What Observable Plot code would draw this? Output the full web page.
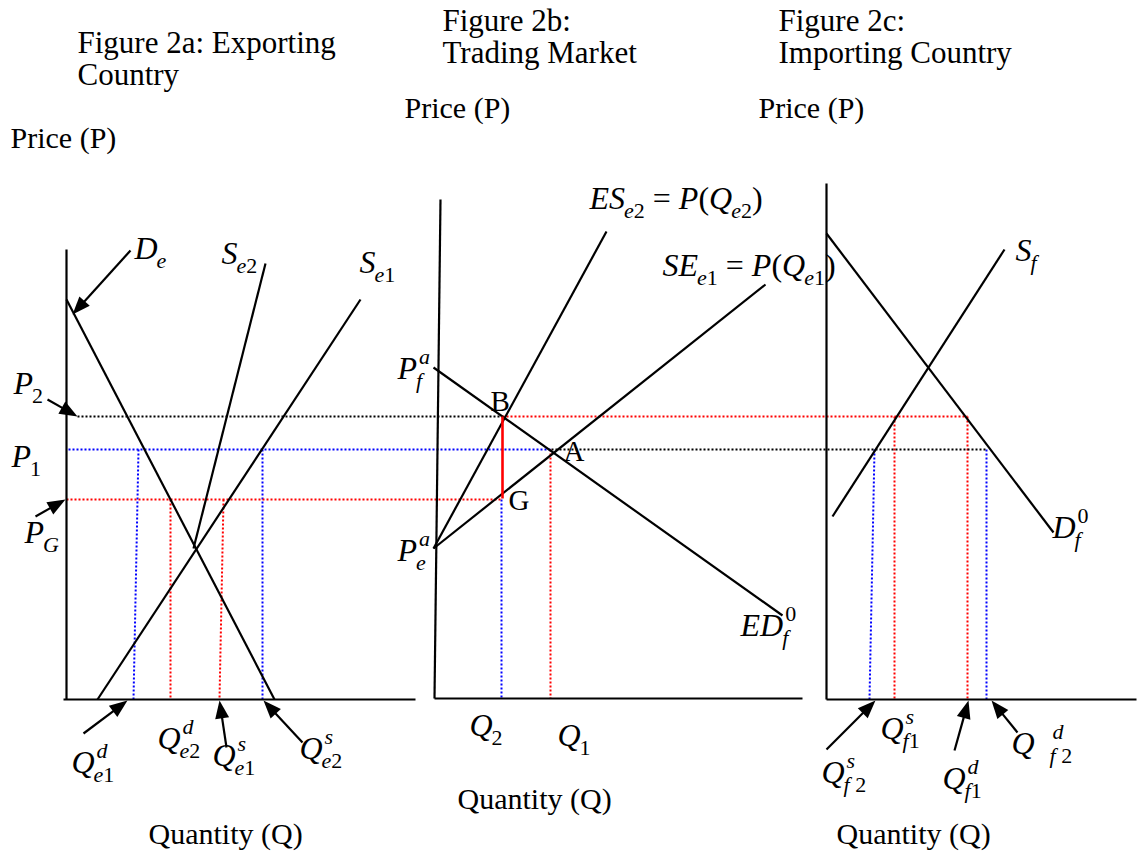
<!DOCTYPE html>
<html>
<head>
<meta charset="utf-8">
<script src="https://cdn.jsdelivr.net/npm/d3@7"></script>
<script src="https://cdn.jsdelivr.net/npm/@observablehq/plot@0.6"></script>
<style>
  html, body { margin: 0; padding: 0; background: #fff; }
  #chart svg { display: block; }
</style>
</head>
<body>
<div id="chart"></div>
<script>
// ---- Diagram data (picture coordinates: x to the right, y downward) ----

// Axes of the three panels: [x1, y1, x2, y2]
const axisSegments = [
  [66, 249, 66, 699], [63, 699, 415, 699],        // 2a
  [440, 199, 434, 698], [434, 698, 802, 698],     // 2b
  [826, 183, 826, 699], [826, 699, 1136, 699]     // 2c
];

// Supply / demand curves: [name, x1, y1, x2, y2]
const curveSegments = [
  ["De", 66, 299, 274, 699],
  ["Se2", 265, 263, 193, 548],
  ["Se1", 360, 299, 97, 699],
  ["ESe2", 606, 231, 433, 548],
  ["SEe1", 765, 284, 433, 548],
  ["EDf0", 433, 367, 782, 615],
  ["Sf", 1004, 249, 832, 516],
  ["Df0", 826, 233, 1053, 532]
];

// Dotted guide lines: [colour, x1, y1, x2, y2]
const guideSegments = [
  ["black", 77, 416, 502, 416], ["red", 502, 416, 967, 416],
  ["blue", 68, 449, 551, 449], ["black", 551, 449, 986, 449],
  ["red", 66, 499, 500, 499],
  ["blue", 138, 449, 133, 699], ["blue", 262, 449, 262, 699],
  ["red", 170, 499, 170, 699], ["red", 223, 499, 219, 699],
  ["blue", 501, 499, 501, 698], ["red", 550, 449, 550, 698],
  ["blue", 874, 449, 869, 699], ["blue", 986, 449, 986, 699],
  ["red", 894, 416, 894, 699], ["red", 967, 416, 967, 699]
];

// Solid red gap B–G: [x1, y1, x2, y2]
const gapSegment = [[502, 416, 502, 498]];

// Pointer arrows: [tailX, tailY, tipX, tipY]
const arrowSegments = [
  [130, 250, 72, 314],
  [47, 399, 77, 416],
  [35, 516, 65, 499],
  [83, 733, 127, 700],
  [226, 747, 219, 700],
  [302, 742, 263, 700],
  [826, 749, 875, 700],
  [954, 750, 968, 700],
  [1017, 732, 991, 700]
];

// Titles: [text, x, y(baseline)]
const titleTexts = [
  ["Figure 2a: Exporting", 77, 52], ["Country", 77, 84],
  ["Figure 2b:", 442, 30], ["Trading Market", 442, 62],
  ["Figure 2c:", 778, 30], ["Importing Country", 778, 62]
];

// Axis names: [text, x, y(baseline)]
const axisTexts = [
  ["Price (P)", 10, 147], ["Price (P)", 404, 117], ["Price (P)", 758, 117],
  ["Quantity (Q)", 148, 843], ["Quantity (Q)", 457, 808], ["Quantity (Q)", 836, 843]
];

// Point labels: [text, x, y(baseline)]
const pointTexts = [["B", 490, 410], ["A", 563, 460], ["G", 508, 509]];

// Mathematical labels: runs ["i"=italic | "r"=roman | "sub" | "sup" | "ss"(sub, sup)]
const mathLabels = [
  {x: 134, y: 258, runs: [["i", "D"], ["sub", "e"]]},
  {x: 221, y: 263, runs: [["i", "S"], ["sub", "e2"]]},
  {x: 359, y: 272, runs: [["i", "S"], ["sub", "e1"]]},
  {x: 13, y: 393, runs: [["i", "P"], ["sub", "2"]]},
  {x: 11, y: 466, runs: [["i", "P"], ["sub", "1"]]},
  {x: 24, y: 542, runs: [["i", "P"], ["sub", "G"]]},
  {x: 71, y: 772, runs: [["i", "Q"], ["ss", "e1", "d"]]},
  {x: 157, y: 748, runs: [["i", "Q"], ["ss", "e2", "d"]]},
  {x: 212, y: 765, runs: [["i", "Q"], ["ss", "e1", "s"]]},
  {x: 299, y: 758, runs: [["i", "Q"], ["ss", "e2", "s"]]},
  {x: 589, y: 208, runs: [["i", "ES"], ["sub", "e2"], ["r", " = "], ["i", "P"], ["r", "("], ["i", "Q"], ["sub", "e2"], ["r", ")"]]},
  {x: 662, y: 275, runs: [["i", "SE"], ["sub", "e1"], ["r", " = "], ["i", "P"], ["r", "("], ["i", "Q"], ["sub", "e1"], ["r", ")"]]},
  {x: 397, y: 378, runs: [["i", "P"], ["ss", "f", "a"]]},
  {x: 397, y: 560, runs: [["i", "P"], ["ss", "e", "a"]]},
  {x: 469, y: 735, runs: [["i", "Q"], ["sub", "2"]]},
  {x: 557, y: 745, runs: [["i", "Q"], ["sub", "1"]]},
  {x: 740, y: 635, runs: [["i", "ED"], ["ss", "f", "0"]]},
  {x: 1015, y: 260, runs: [["i", "S"], ["sub", "f"]]},
  {x: 1052, y: 537, runs: [["i", "D"], ["ss", "f", "0"]]},
  {x: 880, y: 738, runs: [["i", "Q"], ["ss", "f1", "s"]]},
  {x: 821, y: 782, runs: [["i", "Q"], ["ss", "f 2", "s"]]},
  {x: 942, y: 788, runs: [["i", "Q"], ["ss", "f1", "d"]]},
  {x: 1011, y: 753, runs: [["i", "Q"], ["r", "\u2002"], ["ss", "f 2", "d"]]}
];

// ---- Helpers ----
const FONT = "'Liberation Serif', 'Times New Roman', Times, serif";
const BASE = 32, SCRIPT = 22, SUB_DY = 9, SUP_DY = -15;
const ctx = document.createElement("canvas").getContext("2d");
function measure(text, size, italic) {
  ctx.font = `${italic ? "italic " : ""}${size}px ${FONT}`;
  return ctx.measureText(text).width;
}
const seg = ([x1, y1, x2, y2]) => ({x1, y1, x2, y2});

const mathPieces = [];
for (const label of mathLabels) {
  let x = label.x;
  const placeScript = (str, x0, y, dx) => {
    let cx = x0 + dx;
    for (const ch of str) {
      const italic = !/[0-9 ]/.test(ch);
      if (ch !== " ") mathPieces.push({x: cx, y, text: ch, size: SCRIPT, italic});
      cx += measure(ch, SCRIPT, italic);
    }
    return cx - x0;
  };
  for (const [kind, a, b] of label.runs) {
    if (kind === "i" || kind === "r") {
      mathPieces.push({x, y: label.y, text: a, size: BASE, italic: kind === "i"});
      x += measure(a, BASE, kind === "i");
    } else {
      const sub = kind === "sub" || kind === "ss" ? a : null;
      const sup = kind === "sup" ? a : kind === "ss" ? b : null;
      let w = 0;
      if (sub) w = Math.max(w, placeScript(sub, x, label.y + SUB_DY, -1));
      if (sup) w = Math.max(w, placeScript(sup, x, label.y + SUP_DY, 2));
      x += w;
    }
  }
}

// Arrow shafts and filled heads derived from the arrow data
const HEAD_L = 18, HEAD_W = 7;
const shafts = [], heads = [];
arrowSegments.forEach(([x1, y1, x2, y2], i) => {
  const len = Math.hypot(x2 - x1, y2 - y1);
  const ux = (x2 - x1) / len, uy = (y2 - y1) / len;
  const bx = x2 - HEAD_L * ux, by = y2 - HEAD_L * uy;
  shafts.push({x1, y1, x2: bx + ux * 2, y2: by + uy * 2});
  heads.push({id: i, x: x2, y: y2});
  heads.push({id: i, x: bx - HEAD_W * uy, y: by + HEAD_W * ux});
  heads.push({id: i, x: bx + HEAD_W * uy, y: by - HEAD_W * ux});
});

const linkOpts = {x1: "x1", y1: "y1", x2: "x2", y2: "y2"};
const guidesOf = (c) => guideSegments.filter((d) => d[0] === c).map((d) => seg(d.slice(1)));
const dotted = {strokeWidth: 2, strokeDasharray: "2,2"};
const textOpts = {x: (d) => d[1], y: (d) => d[2], text: (d) => d[0], fontFamily: FONT, textAnchor: "start", lineAnchor: "bottom", fill: "#000"};

const chart = Plot.plot({
  width: 1138,
  height: 857,
  margin: 0,
  style: {background: "#fff", overflow: "visible"},
  x: {domain: [0, 1138], range: [0, 1138], axis: null},
  y: {domain: [0, 857], range: [0, 857], axis: null},
  marks: [
    Plot.link(guidesOf("blue"), {...linkOpts, ...dotted, stroke: "#0000ff"}),
    Plot.link(guidesOf("red"), {...linkOpts, ...dotted, stroke: "#ff0000"}),
    Plot.link(guidesOf("black"), {...linkOpts, ...dotted, stroke: "#000"}),
    Plot.link(axisSegments.map(seg), {...linkOpts, stroke: "#000", strokeWidth: 2.2}),
    Plot.link(curveSegments.map((d) => seg(d.slice(1))), {...linkOpts, stroke: "#000", strokeWidth: 2.2}),
    Plot.link(gapSegment.map(seg), {...linkOpts, stroke: "#ff0000", strokeWidth: 2.6}),
    Plot.link(shafts, {...linkOpts, stroke: "#000", strokeWidth: 2.2}),
    Plot.line(heads, {x: "x", y: "y", z: "id", fill: "#000", stroke: "none", curve: "linear-closed"}),
    Plot.text(titleTexts, {...textOpts, fontSize: 31}),
    Plot.text(axisTexts, {...textOpts, fontSize: 30}),
    Plot.text(pointTexts, {...textOpts, fontSize: 29}),
    Plot.text(mathPieces.filter((d) => d.italic), {x: "x", y: "y", text: "text", fontSize: "size", fontStyle: "italic", fontFamily: FONT, textAnchor: "start", lineAnchor: "bottom", fill: "#000"}),
    Plot.text(mathPieces.filter((d) => !d.italic), {x: "x", y: "y", text: "text", fontSize: "size", fontFamily: FONT, textAnchor: "start", lineAnchor: "bottom", fill: "#000"})
  ]
});
document.getElementById("chart").append(chart);
</script>
</body>
</html>
